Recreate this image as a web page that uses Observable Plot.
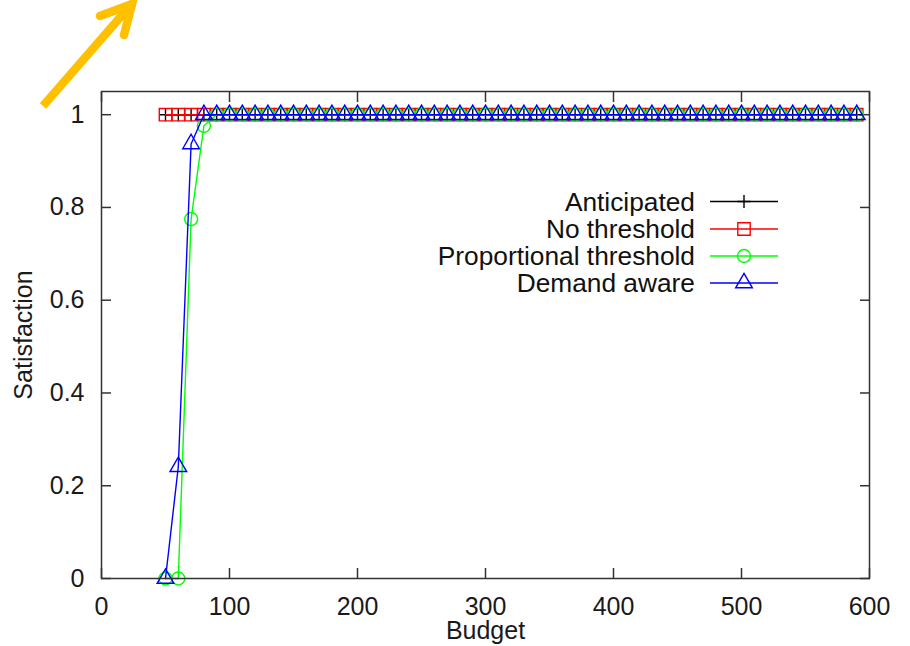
<!DOCTYPE html>
<html><head><meta charset="utf-8">
<script src="https://cdn.jsdelivr.net/npm/d3@7"></script>
<script src="https://cdn.jsdelivr.net/npm/@observablehq/plot@0.6"></script>
<style>html,body{margin:0;padding:0;background:#fff}svg{display:block}</style>
</head><body><div id="chart"></div>
<script>
const budget = [50,60,70,80,90,100,110,120,130,140,150,160,170,180,190,200,210,220,230,240,250,260,270,280,290,300,310,320,330,340,350,360,370,380,390,400,410,420,430,440,450,460,470,480,490,500,510,520,530,540,550,560,570,580,590];
const anticipated = [1,1,1,1,1,1,1,1,1,1,1,1,1,1,1,1,1,1,1,1,1,1,1,1,1,1,1,1,1,1,1,1,1,1,1,1,1,1,1,1,1,1,1,1,1,1,1,1,1,1,1,1,1,1,1];
const noThreshold = [1,1,1,1,1,1,1,1,1,1,1,1,1,1,1,1,1,1,1,1,1,1,1,1,1,1,1,1,1,1,1,1,1,1,1,1,1,1,1,1,1,1,1,1,1,1,1,1,1,1,1,1,1,1,1];
const proportional = [0,0,0.775,0.976,1,1,1,1,1,1,1,1,1,1,1,1,1,1,1,1,1,1,1,1,1,1,1,1,1,1,1,1,1,1,1,1,1,1,1,1,1,1,1,1,1,1,1,1,1,1,1,1,1,1,1];
const demandAware = [0,0.241,0.937,1,1,1,1,1,1,1,1,1,1,1,1,1,1,1,1,1,1,1,1,1,1,1,1,1,1,1,1,1,1,1,1,1,1,1,1,1,1,1,1,1,1,1,1,1,1,1,1,1,1,1,1];
const seriesNames = ["Anticipated","No threshold","Proportional threshold","Demand aware"];
const seriesColors = ["#000000","#ff0000","#00ff00","#0000ff"];
const xTicks = [0,100,200,300,400,500,600];
const yTicks = [0,0.2,0.4,0.6,0.8,1];

const plusSymbol = {draw(ctx, size){const r = Math.sqrt(size/Math.PI); ctx.moveTo(-r,0); ctx.lineTo(r,0); ctx.moveTo(0,-r); ctx.lineTo(0,r);}};
const seriesSymbols = [plusSymbol, "square", "circle", "triangle"];
const seriesR = [6.5, 7, 6.5, 6.2];
const values = [anticipated, noThreshold, proportional, demandAware];

const seriesMarks = [];
seriesNames.forEach((name, i) => {
  const rows = budget.map((b, j) => ({budget: b, value: values[i][j], series: name}));
  seriesMarks.push(Plot.line(rows, {x: "budget", y: "value", stroke: seriesColors[i], strokeWidth: 1.4}));
  seriesMarks.push(Plot.dot(rows, {x: "budget", y: "value", stroke: seriesColors[i], fill: "none", symbol: seriesSymbols[i], r: seriesR[i], strokeWidth: 1.4}));
});

const fmt = d => String(d);
const W = 910, H = 646, ML = 101, MR = 41, MT = 91, MB = 68;

const chart = Plot.plot({
  width: W, height: H,
  marginLeft: ML, marginRight: MR, marginTop: MT, marginBottom: MB,
  style: {fontFamily: "'Liberation Sans', Arial, sans-serif", fontSize: "25px", color: "#1a1a1a", background: "#fff"},
  x: {domain: [0, 600]},
  y: {domain: [0, 1.05]},
  marks: [
    Plot.axisX(xTicks, {anchor: "bottom", tickSize: -10, tickFormat: () => "", label: null, stroke: "#333", strokeWidth: 1.5}),
    Plot.axisX(xTicks, {anchor: "top", tickSize: -10, tickFormat: () => "", label: null, stroke: "#333", strokeWidth: 1.5}),
    Plot.axisY(yTicks, {anchor: "left", tickSize: -10, tickFormat: () => "", label: null, stroke: "#333", strokeWidth: 1.5}),
    Plot.axisY(yTicks, {anchor: "right", tickSize: -10, tickFormat: () => "", label: null, stroke: "#333", strokeWidth: 1.5}),
    Plot.axisX(xTicks, {anchor: "bottom", tickSize: 0, tickPadding: 19, tickFormat: fmt, label: "Budget", labelAnchor: "center", labelArrow: "none", labelOffset: 60}),
    Plot.axisY(yTicks, {anchor: "left", tickSize: 0, tickPadding: 17, tickFormat: fmt, label: "Satisfaction", labelAnchor: "center", labelArrow: "none", labelOffset: 87}),
    ...seriesMarks,
    Plot.frame({stroke: "#333", strokeWidth: 1.5})
  ]
});
document.getElementById("chart").appendChild(chart);

// legend (inside plot, top right)
const svg = d3.select(chart);
const legendRowsY = [201.5, 229, 256, 283];
const leg = svg.append("g").attr("font-family", "'Liberation Sans', Arial, sans-serif").attr("font-size", 26.3);
seriesNames.forEach((name, i) => {
  const y = legendRowsY[i];
  leg.append("text").attr("x", 695).attr("y", y).attr("dy", "0.35em").attr("text-anchor", "end").attr("fill", "#111").text(name);
  leg.append("line").attr("x1", 710).attr("x2", 778).attr("y1", y).attr("y2", y).attr("stroke", seriesColors[i]).attr("stroke-width", 1.4);
  const sym = typeof seriesSymbols[i] === "string" ? {square: d3.symbolSquare, circle: d3.symbolCircle, triangle: d3.symbolTriangle}[seriesSymbols[i]] : seriesSymbols[i];
  leg.append("path").attr("transform", `translate(744,${y})`).attr("d", d3.symbol(sym, seriesR[i] * seriesR[i] * Math.PI)()).attr("fill", "none").attr("stroke", seriesColors[i]).attr("stroke-width", 1.4);
});

// orange annotation arrow
const ann = svg.append("g").attr("stroke", "#FFC000").attr("stroke-width", 8.5).attr("fill", "none");
ann.append("path").attr("d", "M43,106L130,6").attr("stroke-linecap", "butt");
ann.append("path").attr("d", "M100,16L132,4L124,35").attr("stroke-linecap", "round").attr("stroke-linejoin", "miter");
</script>
</body></html>
